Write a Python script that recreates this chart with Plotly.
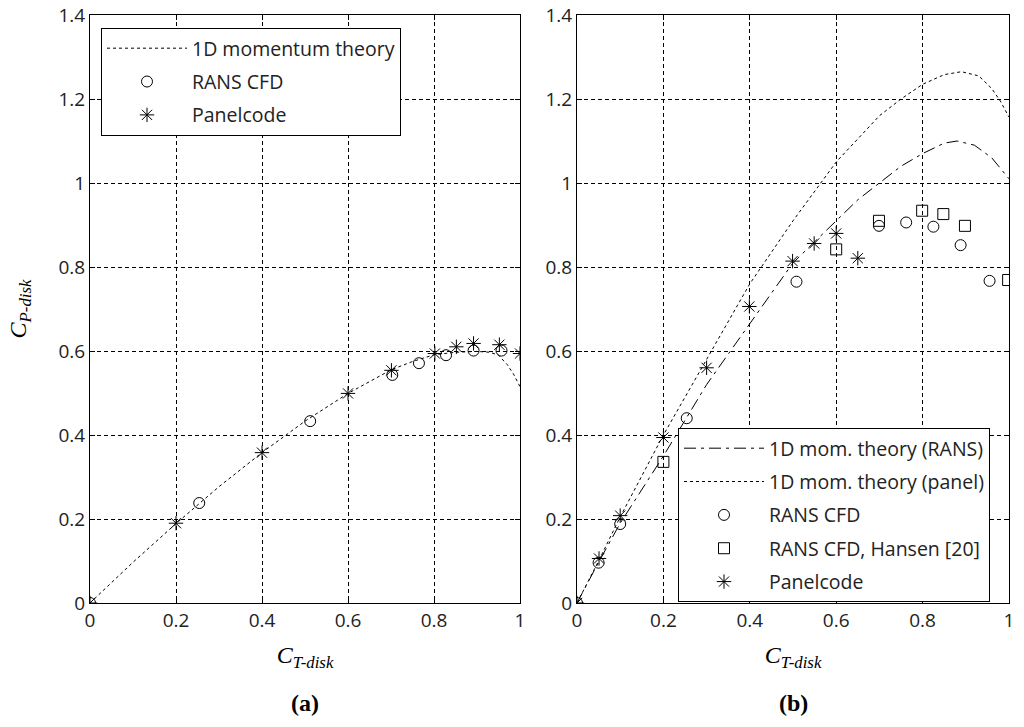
import plotly.graph_objects as go

# ---- panel (a) ----
mom_ct = [0, 0.1, 0.2, 0.3, 0.4, 0.5, 0.6, 0.7, 0.75, 0.8, 0.85, 0.9, 0.93, 0.95, 0.97, 0.985, 1.0]
mom_cp = [0, 0.097, 0.189, 0.277, 0.358, 0.433, 0.499, 0.555, 0.575, 0.591, 0.597, 0.599, 0.597, 0.590, 0.568, 0.545, 0.515]

rans_ct_a = [0, 0.254, 0.512, 0.703, 0.765, 0.828, 0.892, 0.957]
rans_cp_a = [0, 0.238, 0.433, 0.543, 0.571, 0.590, 0.601, 0.601]

panel_ct_a = [0, 0.2, 0.4, 0.6, 0.701, 0.802, 0.852, 0.892, 0.952, 1.0]
panel_cp_a = [0, 0.190, 0.358, 0.499, 0.554, 0.594, 0.610, 0.618, 0.615, 0.594]

# ---- panel (b) ----
momr_ct = [0, 0.05, 0.1, 0.2, 0.25, 0.3, 0.4, 0.5, 0.6, 0.65, 0.7, 0.75, 0.8, 0.85, 0.88, 0.92, 0.96, 1.0]
momr_cp = [0, 0.097, 0.19, 0.35, 0.435, 0.52, 0.665, 0.81, 0.91, 0.96, 1.0, 1.04, 1.07, 1.095, 1.10, 1.09, 1.06, 1.01]

momp_ct = [0, 0.05, 0.1, 0.2, 0.3, 0.4, 0.5, 0.6, 0.7, 0.75, 0.8, 0.85, 0.89, 0.93, 0.96, 0.98, 1.0]
momp_cp = [0, 0.10, 0.205, 0.40, 0.58, 0.76, 0.91, 1.05, 1.16, 1.20, 1.235, 1.258, 1.265, 1.255, 1.225, 1.195, 1.157]

rans_ct_b = [0, 0.05, 0.1, 0.254, 0.508, 0.699, 0.762, 0.825, 0.888, 0.955]
rans_cp_b = [0, 0.096, 0.188, 0.44, 0.765, 0.898, 0.906, 0.896, 0.852, 0.767]

hansen_ct = [0.2, 0.6, 0.699, 0.799, 0.848, 0.898, 0.998]
hansen_cp = [0.336, 0.842, 0.910, 0.934, 0.926, 0.898, 0.769]

panel_ct_b = [0, 0.051, 0.1, 0.2, 0.3, 0.399, 0.499, 0.549, 0.6, 0.65]
panel_cp_b = [0, 0.106, 0.208, 0.394, 0.560, 0.706, 0.814, 0.856, 0.880, 0.821]

xticks = [0, 0.2, 0.4, 0.6, 0.8, 1]
yticks = [0, 0.2, 0.4, 0.6, 0.8, 1, 1.2, 1.4]

W, H = 1024, 727
sans = "Open Sans"
serif = "Liberation Serif"


def px(x):
    return x / W


def py(y):
    return 1 - y / H


fig = go.Figure()


def line(x, y, name, dash, xa, ya, leg, width=1):
    fig.add_trace(go.Scatter(x=x, y=y, mode="lines", name=name, xaxis=xa, yaxis=ya,
                             legend=leg, legendgroup=name + leg,
                             line=dict(color="black", width=width, dash=dash)))


def pts(x, y, name, symbol, size, xa, ya, leg):
    fig.add_trace(go.Scatter(x=x, y=y, mode="markers", name=name, xaxis=xa, yaxis=ya,
                             legend=leg, legendgroup=name + leg,
                             marker=dict(symbol=symbol, size=size, color="black",
                                         line=dict(color="black", width=1))))


line(mom_ct, mom_cp, "1D momentum theory", "3px,3px", "x", "y", "legend")
pts(rans_ct_a, rans_cp_a, "RANS CFD", "circle-open", 11, "x", "y", "legend")
pts(panel_ct_a, panel_cp_a, "Panelcode", "asterisk-open", 12, "x", "y", "legend")

line(momr_ct, momr_cp, "1D mom. theory (RANS)", "12px,5px,3px,5px", "x2", "y2", "legend2")
line(momp_ct, momp_cp, "1D mom. theory (panel)", "3px,3px", "x2", "y2", "legend2")
pts(rans_ct_b, rans_cp_b, "RANS CFD", "circle-open", 11, "x2", "y2", "legend2")
pts(hansen_ct, hansen_cp, "RANS CFD, Hansen [20]", "square-open", 11, "x2", "y2", "legend2")
pts(panel_ct_b, panel_cp_b, "Panelcode", "asterisk-open", 12, "x2", "y2", "legend2")

# empty traces so the top frame axes get drawn
fig.add_trace(go.Scatter(x=[], y=[], xaxis="x3", yaxis="y", showlegend=False))
fig.add_trace(go.Scatter(x=[], y=[], xaxis="x4", yaxis="y2", showlegend=False))

axis_common = dict(
    showline=True, linecolor="black", linewidth=1, mirror="ticks",
    ticks="inside", ticklen=5, tickcolor="black", automargin=False,
    ticklabeloverflow="allow",
    showgrid=True, gridcolor="black", gridwidth=1, griddash="4px,3px",
    zeroline=False, tickfont=dict(family=sans, size=19, color="#222"),
)

# separate top axes, used only to draw the top edge of each box
top_axis = dict(
    side="top", showline=True, linecolor="black", linewidth=1,
    ticks="inside", ticklen=5, tickcolor="black", showticklabels=False,
    showgrid=False, zeroline=False, automargin=False, range=[0, 1], tickvals=xticks,
)

ybot, ytop = py(603), py(15)
xt = "<i>C</i><sub><i>T-disk</i></sub>"
yt = "<i>C</i><sub><i>P-disk</i></sub>"
tfont = dict(family=serif, size=24, color="black")
lfont = dict(family=sans, size=19.5, color="#222")

fig.update_layout(
    width=W, height=H,
    margin=dict(l=0, r=0, t=0, b=0),
    paper_bgcolor="white", plot_bgcolor="white",
    xaxis=dict(axis_common, domain=[px(90), px(520)], range=[0, 1], tickvals=xticks,
               anchor="y", title=dict(text=xt, font=tfont, standoff=14)),
    yaxis=dict(axis_common, domain=[ybot, ytop], range=[0, 1.4], tickvals=yticks,
               anchor="x", title=dict(text=yt, font=tfont, standoff=25)),
    xaxis2=dict(axis_common, domain=[px(577), px(1009)], range=[0, 1], tickvals=xticks,
                anchor="y2", title=dict(text=xt, font=tfont, standoff=14)),
    yaxis2=dict(axis_common, domain=[ybot, ytop], range=[0, 1.4], tickvals=yticks,
                anchor="x2"),
    xaxis3=dict(top_axis, overlaying="x", anchor="y"),
    xaxis4=dict(top_axis, overlaying="x2", anchor="y2"),
    legend=dict(x=px(101), y=py(28), xanchor="left", yanchor="top",
                bgcolor="white", bordercolor="black", borderwidth=1,
                font=lfont, itemwidth=80, tracegroupgap=5),
    legend2=dict(x=px(678), y=py(428), xanchor="left", yanchor="top",
                 bgcolor="white", bordercolor="black", borderwidth=1,
                 font=lfont, itemwidth=80, tracegroupgap=5),
    annotations=[
        dict(text="<b>(a)</b>", x=px(305), y=py(703), xref="paper", yref="paper",
             xanchor="center", yanchor="middle", showarrow=False,
             font=dict(family=serif, size=24, color="black")),
        dict(text="<b>(b)</b>", x=px(793), y=py(703), xref="paper", yref="paper",
             xanchor="center", yanchor="middle", showarrow=False,
             font=dict(family=serif, size=24, color="black")),
    ],
)

# drop the default 8px page margin so the figure fills the window exactly
fig.write_html("out.html", config={"displayModeBar": False},
               post_script="document.body.style.margin='0';"
                           "document.body.style.overflow='hidden';")
